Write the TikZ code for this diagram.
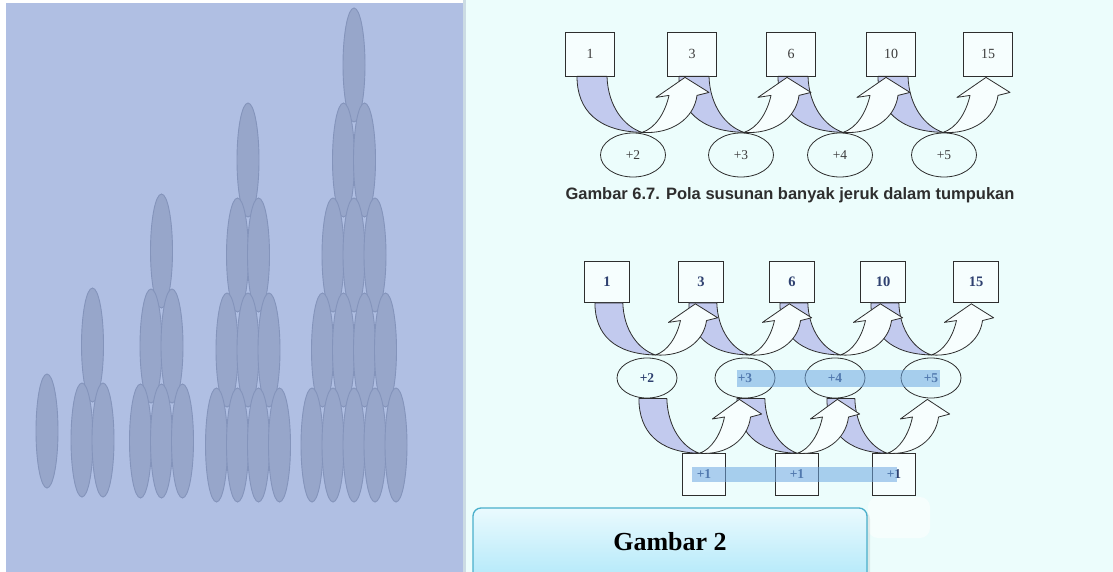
\documentclass[tikz,border=0pt]{standalone}
\usepackage{fontspec}
\setmainfont{Liberation Serif}
\newfontfamily\capfont{Liberation Sans}
\usetikzlibrary{shapes.geometric}

\definecolor{panelblue}{HTML}{B0BFE3}
\definecolor{panelcyan}{HTML}{ECFDFC}
\definecolor{divider}{HTML}{CCDCE4}
\definecolor{fruitfill}{HTML}{97A6CA}
\definecolor{fruitline}{HTML}{8494BB}
\definecolor{bandfill}{HTML}{C2CAEE}
\definecolor{inkline}{HTML}{2E2E2E}
\definecolor{inkgray}{HTML}{3C3C3C}
\definecolor{inknavy}{HTML}{2F4170}
\definecolor{barblue}{HTML}{6EA8E2}
\definecolor{labelborder}{HTML}{4AAFCB}
\definecolor{labeltop}{HTML}{EAFAFE}
\definecolor{labelbottom}{HTML}{A6E5F8}

\tikzset{
  fruit/.style={ellipse, draw=fruitline, fill=fruitfill, line width=0.9pt,
    minimum width=22pt, minimum height=114pt, inner sep=0pt},
  topbox/.style={draw=inkline, fill=white!55!panelcyan, line width=0.8pt,
    minimum width=49pt, minimum height=44pt, inner sep=0pt,
    font=\fontsize{14}{16}\selectfont, text=inkgray},
  topoval/.style={ellipse, draw=inkline, fill=panelcyan, line width=0.8pt,
    minimum width=65pt, minimum height=44pt, inner sep=0pt,
    font=\fontsize{13.5}{15}\selectfont, text=inkgray},
  botbox/.style={draw=inkline, fill=white!55!panelcyan, line width=0.8pt,
    minimum width=45pt, minimum height=41pt, inner sep=0pt,
    font=\bfseries\fontsize{14.5}{16}\selectfont, text=inknavy},
  botoval/.style={ellipse, draw=inkline, fill=panelcyan, line width=0.8pt,
    minimum width=60pt, minimum height=40pt, inner sep=0pt,
    font=\bfseries\fontsize{13.5}{15}\selectfont, text=inknavy},
  smallbox/.style={draw=inkline, fill=white!55!panelcyan, line width=0.8pt,
    minimum width=43pt, minimum height=42pt, inner sep=0pt,
    font=\bfseries\fontsize{13.5}{15}\selectfont, text=inknavy},
  highlight/.style={fill=barblue, opacity=0.55},
  % shaded back part of a curved block arrow
  band/.pic={
    \filldraw[fill=bandfill, draw=inkline, line width=0.8pt, line join=round]
      (-13,0) .. controls (-13,34) and (8,55) .. (52,56)
      .. controls (34,50) and (18,30) .. (17,0) -- cycle;
  },
  % front part of the curved block arrow with its head
  head/.pic={
    \filldraw[fill=white!60!panelcyan, draw=inkline, line width=0.8pt, line join=round]
      (52,56) .. controls (82,58) and (104,42) .. (107,19)
      -- (119,16) -- (95,1) -- (66,21) -- (79,19)
      .. controls (75,37) and (65,52) .. (52,56) -- cycle;
  },
}

\begin{document}
\begin{tikzpicture}[x=1pt,y=-1pt]
\useasboundingbox (0,0) rectangle (1113,572);
\clip (0,0) rectangle (1113,572);

% backgrounds
\fill[white] (0,0) rectangle (1113,572);
\fill[panelblue] (6,3) rectangle (463,572);
\fill[panelcyan] (463,0) rectangle (1113,572);
\fill[divider] (463,0) rectangle (466,572);

% stacked fruit, one column per stage, upper rows first
\foreach \n/\cx/\base in {1/47/431, 2/92.5/440, 3/161.5/441, 4/248/445, 5/354/445} {
  \foreach \r in {\n,...,1} {
    \pgfmathtruncatemacro\m{\n-\r+1}
    \foreach \k in {1,...,\m} {
      \node[fruit] (f-\n-\r-\k) at ({\cx+(\k-(\m+1)/2)*21}, {\base-(\r-1)*95}) {};
    }
  }
}

% ---------- upper pattern ----------
\node[topbox] (t1)  at (590,54) {1};
\node[topbox] (t3)  at (692,54) {3};
\node[topbox] (t6)  at (791,54) {6};
\node[topbox] (t10) at (891,54) {10};
\node[topbox] (t15) at (988,54) {15};

\foreach \a in {t1,t3,t6,t10} \path (\a.south) pic{band};
\foreach \a in {t1,t3,t6,t10} \path (\a.south) pic{head};

\node[topoval] (s2) at (633,155) {+2};
\node[topoval] (s3) at (741,155) {+3};
\node[topoval] (s4) at (840,155) {+4};
\node[topoval] (s5) at (944,155) {+5};

\node[font=\capfont\bfseries\fontsize{16.5}{18}\selectfont, text=inkline, inner sep=0pt]
  (cap) at (790,195) {Gambar 6.7. Pola susunan banyak jeruk dalam tumpukan};

% ---------- lower pattern ----------
\node[botbox] (b1)  at (607,282) {1};
\node[botbox] (b3)  at (701,282) {3};
\node[botbox] (b6)  at (792,282) {6};
\node[botbox] (b10) at (883,282) {10};
\node[botbox] (b15) at (976,282) {15};

\node[smallbox] (p1) at (704,474) {+1};
\node[smallbox] (p2) at (797,474) {+1};
\node[smallbox] (p3) at (894,474) {+1};

\foreach \a in {b1,b3,b6,b10} \path (\a.south) pic[xscale=.93,yscale=.93]{band};
\foreach \a in {b1,b3,b6,b10} \path (\a.south) pic[xscale=.93,yscale=.93]{head};

\node[botoval] (e2) at (647,378) {+2};
\node[botoval] (e3) at (745,378) {+3};
\node[botoval] (e4) at (835,378) {+4};
\node[botoval] (e5) at (931,378) {+5};

\foreach \a in {e2,e3,e4} \path ([xshift=4pt]\a.south) pic[xscale=.93,yscale=.98]{band};
\foreach \a in {e2,e3,e4} \path ([xshift=4pt]\a.south) pic[xscale=.93,yscale=.98]{head};

% highlighted equal differences
\fill[highlight] ([xshift=-8pt,yshift=8.5pt]e3.center) rectangle ([xshift=9pt,yshift=-8.5pt]e5.center);
\fill[highlight] ([xshift=-12pt,yshift=7.5pt]p1.center) rectangle ([xshift=3pt,yshift=-7.5pt]p3.center);

% ---------- caption label ----------
\fill[white, opacity=0.55, rounded corners=10pt] (868,497) rectangle (930,538);
\fill[black, opacity=0.08, rounded corners=8pt] (476,511) rectangle (870,600);
\path[draw=labelborder, line width=1.3pt, top color=labeltop, bottom color=labelbottom,
  rounded corners=8pt] (473,508) rectangle (867,596);
\node[font=\bfseries\fontsize{26}{30}\selectfont, text=black, inner sep=0pt]
  (lbl) at (670,542) {Gambar 2};
\end{tikzpicture}
\end{document}
